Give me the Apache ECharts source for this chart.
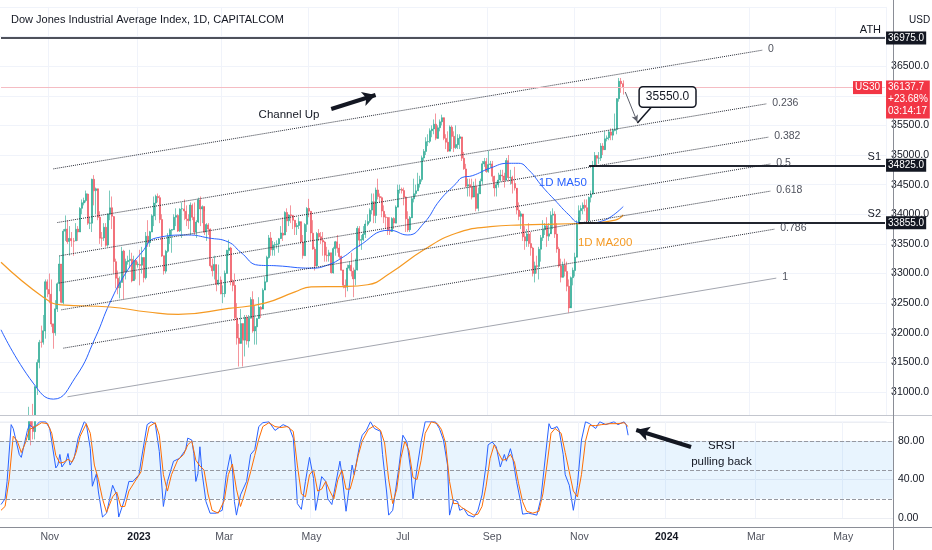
<!DOCTYPE html>
<html>
<head>
<meta charset="utf-8">
<title>Dow Jones Industrial Average Index, 1D</title>
<script src="https://cdn.jsdelivr.net/npm/echarts@6.0.0/dist/echarts.min.js"></script>
<style>
  html, body { margin: 0; padding: 0; background: #fff; }
  #main { width: 932px; height: 550px; }
</style>
</head>
<body>
<div id="main"></div>
<script>
// daily bars, [open, close, low, high]
var sep22 = [
  [29140, 29683, 29100, 29750], [29680, 29225, 29000, 29700], [29225, 28726, 28700, 29500]
];
var oct22 = [
  [28730, 29490, 28660, 29550], [29500, 30316, 29500, 30350], [30310, 30273, 29850, 30400],
  [30270, 29927, 29880, 30430], [29920, 29297, 29200, 29950], [29300, 29203, 29000, 29450],
  [29200, 29240, 28900, 29400], [29240, 29211, 29150, 29450], [29210, 30039, 28660, 30100],
  [30040, 29635, 29600, 30350], [29640, 30186, 29650, 30250], [30190, 30524, 30200, 30750],
  [30520, 30424, 30100, 30550], [30420, 30334, 30200, 30800], [30330, 31083, 30200, 31100],
  [31080, 31499, 30950, 31550], [31500, 31837, 31400, 31880], [31840, 31839, 31750, 32120],
  [31840, 32033, 31800, 32300], [32030, 32861, 31900, 32900], [32860, 32733, 32600, 32900]
];
var nov22 = [
  [32730, 32653, 32500, 33000], [32650, 32147, 32100, 32900], [32150, 32001, 31730, 32150],
  [32000, 32403, 31950, 32550], [32400, 32827, 32350, 32850], [32830, 33160, 32700, 33300],
  [33160, 32513, 32500, 33160], [32510, 33715, 32480, 33750], [33715, 33747, 33550, 33980],
  [33750, 33537, 33500, 33900], [33540, 33593, 33300, 33800], [33590, 33553, 33450, 33700],
  [33550, 33546, 33300, 33600], [33550, 33746, 33550, 33850], [33750, 33700, 33550, 33800],
  [33700, 34098, 33700, 34120], [34100, 34194, 34000, 34250], [34190, 34230, 34150, 34280],
  [34230, 34347, 34200, 34400], [34340, 33849, 33820, 34350], [33850, 33852, 33750, 33950],
  [33850, 34590, 33700, 34600]
];
var dec22 = [
  [34590, 34395, 34150, 34660], [34400, 34430, 34000, 34450], [34430, 33947, 33900, 34400],
  [33950, 33596, 33500, 34050], [33600, 33597, 33450, 33700], [33600, 33781, 33550, 33850],
  [33780, 33476, 33450, 33850], [33480, 34005, 33450, 34010], [34000, 34108, 33900, 34400],
  [34110, 33966, 33750, 34300], [33960, 33202, 33000, 33970], [33200, 32920, 32750, 33250],
  [32920, 32757, 32650, 33050], [32760, 32850, 32580, 32950], [32850, 33376, 32850, 33450],
  [33380, 33027, 32570, 33400], [33030, 33203, 32900, 33250], [33200, 33220, 33150, 33300],
  [33220, 33241, 33100, 33400], [33240, 32875, 32850, 33350], [32880, 33220, 32900, 33300],
  [33220, 33147, 32900, 33200]
];
var jan23 = [
  [33150, 33160, 33100, 33200], [33150, 33136, 32800, 33400], [33140, 33270, 33000, 33450],
  [33270, 32930, 32850, 33200], [32930, 33630, 32900, 33700], [33630, 33517, 33450, 33900],
  [33520, 33704, 33450, 33720], [33700, 33973, 33700, 34000], [33970, 34189, 33800, 34300],
  [34190, 34302, 33900, 34330], [34300, 34280, 34200, 34350], [34280, 33910, 33850, 34320],
  [33910, 33296, 33280, 34000], [33300, 33044, 32980, 33300], [33040, 33375, 33000, 33400],
  [33375, 33629, 33350, 33680], [33630, 33733, 33500, 33760], [33730, 33743, 33350, 33750],
  [33740, 33949, 33750, 34000], [33950, 33978, 33800, 34100], [33980, 33717, 33700, 34000],
  [33720, 34086, 33700, 34100]
];
var feb23 = [
  [34090, 34092, 33600, 34200], [34090, 34054, 33900, 34250], [34050, 33926, 33800, 34150],
  [33920, 33891, 33750, 34000], [33890, 34156, 33650, 34200], [34150, 33949, 33900, 34180],
  [33950, 33699, 33650, 34200], [33700, 33869, 33600, 33900], [33870, 34245, 33850, 34280],
  [34240, 34089, 33800, 34300], [34090, 34128, 33850, 34150], [34130, 33697, 33650, 34050],
  [33700, 33826, 33550, 33850], [33820, 33750, 33650, 33850], [33750, 33130, 33100, 33760],
  [33130, 33045, 32950, 33250], [33050, 33154, 32900, 33300], [33150, 32817, 32700, 33000],
  [32820, 32889, 32800, 33150], [32890, 32657, 32650, 32950]
];
var mar23 = [
  [32660, 32662, 32500, 32800], [32660, 33004, 32600, 33050], [33000, 33391, 33000, 33400],
  [33390, 33431, 33300, 33570], [33430, 32856, 32800, 33450], [32860, 32799, 32700, 32900],
  [32800, 32254, 32200, 33000], [32250, 31910, 31800, 32500], [31910, 31820, 31430, 32150],
  [31820, 32155, 31850, 32400], [32155, 31875, 31430, 31900], [31875, 32247, 31600, 32300],
  [32250, 31862, 31800, 32300], [31860, 32245, 31750, 32300], [32245, 32561, 32250, 32600],
  [32560, 32031, 32000, 32700], [32030, 32106, 31800, 32450], [32100, 32238, 31800, 32250],
  [32240, 32433, 32300, 32600], [32430, 32395, 32250, 32450], [32400, 32718, 32450, 32750],
  [32720, 32860, 32750, 32950], [32860, 33274, 32850, 33300]
];
var apr23 = [
  [33270, 33601, 33250, 33650], [33600, 33403, 33300, 33700], [33400, 33483, 33300, 33550],
  [33480, 33486, 33300, 33530], [33490, 33500, 33420, 33560], [33500, 33587, 33350, 33600],
  [33590, 33685, 33600, 33800], [33680, 33647, 33550, 33950], [33650, 34030, 33650, 34050],
  [34030, 33887, 33700, 34100], [33890, 33988, 33800, 34000], [33990, 33977, 33850, 34150],
  [33980, 33897, 33750, 33950], [33900, 33787, 33650, 33900], [33790, 33809, 33650, 33850],
  [33810, 33876, 33750, 33950], [33875, 33531, 33500, 33850], [33530, 33302, 33250, 33650],
  [33300, 33827, 33300, 33850], [33830, 34098, 33700, 34120]
];
var may23 = [
  [34100, 34052, 33950, 34260], [34050, 33684, 33550, 34050], [33680, 33414, 33400, 33900],
  [33410, 33128, 33050, 33450], [33130, 33675, 33150, 33700], [33680, 33619, 33550, 33750],
  [33620, 33562, 33500, 33700], [33560, 33531, 33300, 33700], [33530, 33310, 33200, 33550],
  [33310, 33301, 33200, 33450], [33300, 33349, 33200, 33400], [33350, 33013, 33000, 33350],
  [33010, 33421, 33000, 33450], [33420, 33536, 33300, 33550], [33535, 33427, 33350, 33650],
  [33430, 33287, 33250, 33500], [33290, 33056, 33050, 33300], [33060, 32800, 32750, 33050],
  [32800, 32765, 32600, 32900], [32770, 33093, 32700, 33150], [33090, 33140, 33050, 33200],
  [33140, 33043, 32950, 33350], [33040, 32908, 32600, 33100]
];
var jun23 = [
  [32910, 33061, 32800, 33250], [33060, 33763, 33050, 33800], [33760, 33563, 33450, 33800],
  [33560, 33573, 33400, 33650], [33570, 33665, 33550, 33800], [33660, 33834, 33600, 33900],
  [33830, 33877, 33800, 34000], [33880, 34066, 33850, 34100], [34070, 34212, 34000, 34350],
  [34210, 33979, 33850, 34350], [33980, 34408, 33850, 34450], [34410, 34299, 34250, 34600],
  [34300, 34280, 34200, 34350], [34280, 34054, 33950, 34300], [34050, 33952, 33850, 34150],
  [33950, 33947, 33750, 34000], [33945, 33727, 33650, 33950], [33730, 33714, 33650, 33950],
  [33710, 33927, 33700, 33950], [33930, 33853, 33750, 33950], [33850, 34122, 33850, 34150],
  [34120, 34408, 34150, 34500]
];
var jul23 = [
  [34410, 34418, 34350, 34500], [34420, 34400, 34350, 34450], [34400, 34288, 34150, 34450],
  [34290, 33922, 33700, 34300], [33920, 33734, 33700, 34050], [33740, 33944, 33700, 33970],
  [33940, 34262, 33950, 34300], [34260, 34347, 34200, 34600], [34350, 34395, 34300, 34500],
  [34395, 34509, 34400, 34700], [34510, 34585, 34450, 34650], [34585, 34952, 34550, 34990],
  [34950, 35061, 34900, 35100], [35060, 35225, 35000, 35300], [35225, 35228, 35150, 35350],
  [35230, 35411, 35200, 35450], [35410, 35438, 35300, 35500], [35440, 35520, 35350, 35600],
  [35520, 35282, 35250, 35700], [35280, 35459, 35300, 35500], [35460, 35560, 35400, 35600]
];
var aug23 = [
  [35560, 35630, 35500, 35680], [35630, 35282, 35250, 35600], [35280, 35216, 35100, 35350],
  [35215, 35065, 35050, 35400], [35065, 35473, 35100, 35500], [35470, 35314, 35100, 35500],
  [35315, 35123, 35050, 35400], [35125, 35176, 35100, 35500], [35175, 35281, 35100, 35350],
  [35280, 35308, 35100, 35350], [35305, 34946, 34900, 35300], [34945, 34766, 34750, 35050],
  [34765, 34474, 34450, 34850], [34475, 34500, 34300, 34600], [34500, 34463, 34300, 34600],
  [34465, 34288, 34250, 34600], [34290, 34473, 34300, 34550], [34470, 34099, 34050, 34600],
  [34100, 34346, 34050, 34450], [34345, 34559, 34350, 34600], [34560, 34852, 34500, 34900],
  [34850, 34890, 34800, 34950], [34890, 34722, 34700, 34950]
];
var sep23 = [
  [34720, 34838, 34700, 35070], [34840, 34850, 34780, 34900], [34850, 34642, 34550, 34900],
  [34640, 34443, 34300, 34650], [34445, 34500, 34300, 34550], [34500, 34577, 34450, 34700],
  [34580, 34663, 34550, 34750], [34660, 34646, 34550, 34750], [34645, 34575, 34450, 34700],
  [34575, 34907, 34600, 34950], [34905, 34618, 34550, 35000], [34620, 34624, 34500, 34750],
  [34625, 34518, 34350, 34650], [34520, 34441, 34400, 34800], [34440, 34070, 34000, 34350],
  [34070, 33964, 33900, 34200], [33965, 34007, 33750, 34050], [34005, 33619, 33550, 33950],
  [33620, 33550, 33400, 33800], [33550, 33667, 33450, 33750], [33665, 33508, 33450, 33850]
];
var oct23 = [
  [33505, 33433, 33300, 33700], [33430, 33002, 32950, 33450], [33000, 33129, 32850, 33200],
  [33130, 33120, 33000, 33300], [33120, 33408, 32900, 33450], [33410, 33604, 33200, 33650],
  [33605, 33739, 33550, 33900], [33740, 33804, 33650, 33850], [33805, 33631, 33450, 33950],
  [33630, 33670, 33550, 33850], [33670, 33984, 33700, 34050], [33985, 34002, 33750, 34100],
  [34000, 33665, 33600, 34050], [33665, 33414, 33350, 33850], [33415, 33127, 33100, 33450],
  [33130, 32936, 32850, 33250], [32935, 33141, 32950, 33200], [33140, 33036, 32950, 33250],
  [33035, 32785, 32700, 33200], [32785, 32418, 32330, 32900], [32420, 32929, 32450, 32950],
  [32930, 33053, 32800, 33100]
];
var nov23 = [
  [33050, 33275, 32950, 33350], [33275, 33839, 33300, 33900], [33840, 34061, 33950, 34150],
  [34060, 34096, 33900, 34150], [34095, 34153, 34000, 34200], [34150, 34112, 34050, 34250],
  [34110, 33892, 33850, 34250], [33890, 34283, 33850, 34300], [34285, 34338, 34200, 34400],
  [34340, 34828, 34350, 34900], [34830, 34991, 34800, 35050], [34990, 34945, 34800, 35000],
  [34945, 34947, 34850, 35050], [34950, 35151, 34900, 35200], [35150, 35088, 35000, 35200],
  [35090, 35273, 35100, 35400], [35275, 35290, 35230, 35330], [35290, 35390, 35250, 35420],
  [35390, 35334, 35250, 35450], [35335, 35417, 35250, 35450], [35415, 35430, 35400, 35700],
  [35430, 35950, 35350, 35960]
];
var dec23 = [
  [35950, 36245, 35900, 36300], [36245, 36204, 36050, 36300], [36204, 36137.7, 36020, 36260]
];

// moving averages, [bar index, value]
var ma50 = [
  [0, 32050], [16, 31150], [26, 30880], [37, 31250], [47, 31930], [54, 32500], [62, 33010],
  [70, 33360], [77, 33600], [93, 33650], [103, 33600], [113, 33530], [119, 33360], [128, 33140],
  [137, 33130], [154, 33090], [162, 33140], [170, 33280], [177, 33450], [193, 33730], [202, 33650],
  [210, 33850], [218, 34240], [226, 34520], [229, 34620], [234, 34650], [243, 34780], [252, 34860],
  [257, 34860], [262, 34750], [269, 34460], [275, 34240], [282, 33990], [287, 33860], [292, 33850],
  [298, 33880], [303, 33960], [309, 34130]
];
var ma200 = [
  [0, 33190], [21, 32600], [30, 32470], [54, 32435], [73, 32350], [88, 32310], [113, 32410],
  [131, 32500], [146, 32690], [154, 32775], [170, 32780], [182, 32810], [193, 33000], [210, 33400],
  [226, 33680], [243, 33790], [259, 33820], [275, 33835], [292, 33850], [305, 33900], [309, 33990]
];

// stochastic RSI, [bar index, value]
var srsiK = [
  [0, 14], [2, 20], [3, 38], [5, 97], [6, 93], [9, 66], [10, 63], [13, 91], [14, 97], [16, 93],
  [19, 100], [22, 100], [24, 93], [27, 52], [28, 55], [29, 66], [30, 53], [32, 59], [33, 67], [34, 55],
  [36, 62], [38, 83], [41, 100], [42, 98], [44, 72], [45, 33], [47, 46], [48, 27], [50, 1], [52, 5],
  [55, 34], [57, 24], [58, 1], [61, 20], [63, 38], [65, 38], [68, 45], [69, 59], [72, 97], [74, 100],
  [76, 98], [78, 69], [80, 12], [82, 38], [85, 59], [88, 62], [91, 71], [92, 83], [94, 81], [95, 67],
  [96, 38], [97, 46], [98, 74], [99, 48], [101, 17], [103, 5], [106, 5], [109, 8], [111, 45], [113, 66],
  [114, 52], [115, 17], [116, 3], [118, 24], [121, 38], [123, 66], [125, 71], [127, 95], [129, 99], [132, 100],
  [135, 91], [137, 94], [139, 97], [142, 94], [144, 83], [145, 52], [146, 15], [148, 9], [150, 38], [152, 63],
  [154, 41], [155, 8], [158, 43], [160, 38], [161, 20], [163, 14], [167, 59], [168, 45], [170, 7], [173, 55],
  [174, 45], [177, 79], [178, 86], [180, 91], [182, 100], [184, 93], [187, 90], [188, 66], [190, 27], [191, 3],
  [193, 8], [196, 52], [198, 86], [200, 79], [202, 48], [203, 20], [205, 52], [207, 79], [209, 100], [214, 100],
  [216, 93], [218, 81], [220, 55], [221, 3], [223, 19], [225, 17], [226, 8], [228, 10], [230, 3], [233, 1],
  [235, 8], [237, 24], [239, 55], [240, 76], [242, 79], [244, 74], [246, 53], [248, 66], [249, 59], [251, 72],
  [252, 64], [254, 38], [256, 17], [257, 4], [260, 5], [262, 4], [264, 3], [266, 20], [269, 79], [270, 98],
  [271, 93], [272, 93], [274, 95], [275, 91], [277, 66], [278, 45], [280, 34], [282, 8], [284, 34], [286, 81],
  [288, 100], [290, 98], [293, 93], [295, 100], [298, 97], [302, 100], [304, 97], [307, 100], [308, 97], [309, 86]
];
var srsiD = [
  [0, 8], [2, 12], [4, 40], [6, 85], [8, 80], [10, 68], [12, 78], [14, 92], [17, 95], [20, 99],
  [23, 98], [25, 88], [27, 65], [29, 57], [31, 58], [33, 61], [35, 58], [37, 68], [39, 85], [42, 98],
  [44, 88], [46, 55], [48, 40], [50, 20], [52, 6], [55, 22], [57, 27], [59, 12], [61, 12], [63, 28],
  [66, 38], [69, 48], [71, 75], [73, 95], [76, 99], [78, 86], [80, 45], [82, 28], [84, 45], [87, 60],
  [90, 66], [92, 76], [94, 80], [96, 60], [98, 54], [100, 50], [102, 25], [104, 8], [107, 5], [110, 18],
  [112, 45], [114, 56], [116, 30], [118, 12], [120, 25], [123, 48], [125, 65], [127, 82], [129, 95], [132, 99],
  [135, 95], [138, 94], [141, 95], [144, 90], [146, 55], [148, 25], [150, 22], [152, 45], [154, 50], [156, 28],
  [158, 30], [160, 38], [162, 28], [164, 20], [166, 40], [168, 50], [170, 30], [172, 30], [174, 45], [176, 65],
  [178, 80], [181, 92], [184, 96], [187, 91], [189, 78], [191, 40], [193, 15], [195, 30], [197, 62], [199, 80],
  [201, 70], [203, 42], [205, 40], [207, 60], [209, 88], [212, 100], [215, 98], [217, 92], [219, 78], [221, 38],
  [223, 15], [225, 15], [227, 11], [230, 7], [233, 3], [235, 4], [237, 12], [239, 33], [241, 62], [243, 76],
  [245, 68], [247, 60], [249, 61], [251, 66], [253, 58], [255, 36], [257, 17], [259, 7], [262, 5], [265, 7],
  [267, 25], [269, 55], [271, 88], [273, 93], [276, 88], [278, 68], [280, 48], [282, 28], [284, 22], [286, 45],
  [288, 80], [290, 96], [293, 96], [296, 97], [300, 98], [304, 98], [307, 99], [309, 95]
];

// drawn levels
var ath = 36975, s1 = 34825, s2 = 33855, lastPrice = 36137.7, target = 35550;
// fib channel: label, [start bar, price], [end bar, price]
var channel = [
  ['0', [26, 34766], [378, 36769]],
  ['0.236', [28, 33860], [380, 35863]],
  ['0.382', [29, 33298], [381, 35301]],
  ['0.5', [29, 32840], [382, 34848]],
  ['0.618', [30, 32387], [382, 34390]],
  ['0.786', [31, 31740], [384, 33748]],
  ['1', [33, 30919], [385, 32922]]
];
var monthNames = ['Jan', 'Feb', 'Mar', 'Apr', 'May', 'Jun', 'Jul', 'Aug', 'Sep', 'Oct', 'Nov', 'Dec'];

var candles = [].concat(sep22, oct22, nov22, dec22, jan23, feb23, mar23, apr23, may23,
  jun23, jul23, aug23, sep23, oct23, nov23, dec23);

// weekday bars, the CFD trades on exchange holidays too
var cats = [];
(function () {
  var d = new Date(Date.UTC(2022, 8, 28));
  while (cats.length < 440) {
    var wd = d.getUTCDay();
    if (wd !== 0 && wd !== 6) cats.push(d.toISOString().slice(0, 10));
    d.setUTCDate(d.getUTCDate() + 1);
  }
})();
var lastBar = cats.length - 1;

function monthTick(i) {
  if (i === 0) return false;
  var m = +cats[i].slice(5, 7);
  return m !== +cats[i - 1].slice(5, 7) && m % 2 === 1;
}

var FONT = 'Liberation Sans, Arial, sans-serif';
var INK = '#131722';
var UP = '#22a68f', DOWN = '#ef4f5a';

function hLine(v, from, color, width, label) {
  return [
    { coord: [from, v], lineStyle: { color: color, width: width, type: 'solid' }, label: label || { show: false } },
    { coord: [lastBar, v] }
  ];
}
function boxLabel(text, bg) {
  return { show: true, position: 'end', distance: 1, formatter: text, color: '#fff',
    backgroundColor: bg, padding: [2, 2, 1, 2], fontSize: 10, fontFamily: FONT };
}
function tagLabel(text) {
  return { show: true, position: 'insideEndTop', distance: [4, 3], formatter: text,
    color: INK, fontSize: 11, fontFamily: FONT };
}
function note(coord, text, style) {
  return { coord: coord, symbol: 'rect', symbolSize: 1, itemStyle: { color: 'rgba(0,0,0,0)' },
    label: Object.assign({ show: true, position: 'inside', formatter: text, color: INK,
      fontSize: 11.5, fontFamily: FONT }, style || {}) };
}
function arrow(from, to, color, width, size) {
  return [
    { coord: from, symbol: 'none', lineStyle: { color: color, width: width, type: 'solid' }, label: { show: false } },
    { coord: to, symbol: 'arrow', symbolSize: size }
  ];
}

var mainLines = [];
channel.forEach(function (c) {
  var solid = c[0] === '1';
  mainLines.push([
    { coord: c[1], lineStyle: { color: solid ? '#a3a6af' : '#2a2e39', width: 1, type: solid ? 'solid' : 'dotted' },
      label: { show: true, position: 'end', distance: 6, formatter: c[0], color: '#50535e', fontSize: 10.5, fontFamily: FONT } },
    { coord: c[2] }
  ]);
});
mainLines.push(hLine(lastPrice, 0, '#f5bcc3', 1, {
  show: true, position: 'end', distance: 1, offset: [0, 12],
  formatter: '36137.7\n+23.68%\n03:14:17', lineHeight: 12, color: '#fff',
  backgroundColor: '#f23645', padding: [1, 2, 1, 2], fontSize: 10, fontFamily: FONT
}));
mainLines.push(hLine(lastPrice, 0, '#f5bcc3', 1, {
  show: true, position: 'insideEnd', distance: 3, formatter: 'US30', color: '#fff',
  backgroundColor: '#f23645', padding: [2, 2, 1, 2], fontSize: 10, fontFamily: FONT
}));
mainLines.push(hLine(ath, 0, '#434651', 1.5, boxLabel('36975.0', INK)));
mainLines.push(hLine(ath, 0, '#434651', 1.5, tagLabel('ATH')));
mainLines.push(hLine(s1, 292, INK, 1.5, boxLabel('34825.0', INK)));
mainLines.push(hLine(s1, 292, INK, 1.5, tagLabel('S1')));
mainLines.push(hLine(s2, 287, INK, 1.5, boxLabel('33855.0', INK)));
mainLines.push(hLine(s2, 287, INK, 1.5, tagLabel('S2')));
mainLines.push(arrow([164, 35776], [186, 36013], INK, 4, [11, 13]));
mainLines.push(arrow([310, 36063], [316, 35557], '#5d606b', 1, [5, 7]));
mainLines.push([
  { coord: [323, 35810], symbol: 'none', lineStyle: { color: INK, width: 1.5, type: 'solid' }, label: { show: false } },
  { coord: [316, 35540], symbol: 'none' }
]);

var option = {
  backgroundColor: '#fff',
  animation: false,
  textStyle: { fontFamily: FONT },
  title: [
    { text: 'Dow Jones Industrial Average Index, 1D, CAPITALCOM', left: 6, top: 9,
      textStyle: { fontSize: 11, fontWeight: 'normal', color: INK, fontFamily: FONT } },
    { text: 'USD', left: 904, top: 10,
      textStyle: { fontSize: 10, fontWeight: 'normal', color: INK, fontFamily: FONT } }
  ],
  grid: [
    { left: 0, top: 6.875, width: 893, height: 414.75 },
    { left: 0, top: 421.75, width: 893, height: 96.25 }
  ],
  xAxis: [
    { type: 'category', gridIndex: 0, data: cats, boundaryGap: true,
      axisLine: { show: false }, axisTick: { show: false }, axisLabel: { show: false },
      splitLine: { show: true, interval: monthTick, lineStyle: { color: '#f0f3fa' } } },
    { type: 'category', gridIndex: 1, data: cats, boundaryGap: true,
      axisLine: { show: false }, axisTick: { show: false },
      splitLine: { show: true, interval: monthTick, lineStyle: { color: '#f0f3fa' } },
      axisLabel: {
        show: true, interval: monthTick, margin: 14, fontSize: 10.5,
        formatter: function (v) {
          var m = +v.slice(5, 7);
          return m === 1 ? '{y|' + v.slice(0, 4) + '}' : '{m|' + monthNames[m - 1] + '}';
        },
        rich: {
          y: { color: INK, fontWeight: 'bold', fontSize: 10.5, fontFamily: FONT },
          m: { color: '#50535e', fontSize: 10.5, fontFamily: FONT }
        }
      } }
  ],
  yAxis: [
    { type: 'value', gridIndex: 0, position: 'right', min: 30500, max: 37500, interval: 500,
      axisLine: { show: false }, axisTick: { show: false },
      axisLabel: { margin: 5, fontSize: 10.5, color: INK,
        formatter: function (v) { return v >= 31000 && v <= 36500 ? v.toFixed(1) : ''; } },
      splitLine: { lineStyle: { color: '#f0f3fa' } } },
    { type: 'value', gridIndex: 1, position: 'right', min: 0, max: 100, interval: 40,
      axisLine: { show: false }, axisTick: { show: false },
      axisLabel: { margin: 5, fontSize: 10.5, color: INK,
        formatter: function (v) { return v === 100 ? '' : v.toFixed(2); } },
      splitLine: { lineStyle: { color: '#eceef3' } } }
  ],
  series: [
    {
      name: 'US30', type: 'candlestick', xAxisIndex: 0, yAxisIndex: 0,
      data: candles, barWidth: 1.5, clip: true,
      itemStyle: { color: UP, color0: DOWN, borderColor: UP, borderColor0: DOWN, borderWidth: 0.6 },
      markLine: { silent: true, animation: false, symbol: ['none', 'none'], data: mainLines },
      markPoint: {
        silent: true, animation: false,
        data: [
          note([143, 35675], 'Channel Up'),
          note([331, 35979], target.toFixed(1), { fontSize: 12, backgroundColor: '#fff',
            borderColor: INK, borderWidth: 1.5, borderRadius: 3, padding: [4, 6, 3, 6] }),
          note([279, 34527], '1D MA50', { color: '#2962ff' }),
          note([300, 33515], '1D MA200', { color: '#f59a23' })
        ]
      }
    },
    {
      name: '1D MA50', type: 'line', xAxisIndex: 0, yAxisIndex: 0, data: ma50,
      smooth: true, showSymbol: false, symbol: 'none', lineStyle: { color: '#2962ff', width: 1 }
    },
    {
      name: '1D MA200', type: 'line', xAxisIndex: 0, yAxisIndex: 0, data: ma200,
      smooth: true, showSymbol: false, symbol: 'none', lineStyle: { color: '#f59a23', width: 1.2 }
    },
    {
      name: 'K', type: 'line', xAxisIndex: 1, yAxisIndex: 1, data: srsiK,
      showSymbol: false, symbol: 'none', lineStyle: { color: '#2962ff', width: 1 },
      markArea: { silent: true, itemStyle: { color: 'rgba(33,150,243,0.1)' },
        data: [[{ yAxis: 20 }, { yAxis: 80 }]] },
      markLine: {
        silent: true, animation: false, symbol: ['none', 'none'],
        lineStyle: { color: '#9598a1', type: 'dashed', width: 1 },
        label: { show: false },
        data: [
          { yAxis: 80 }, { yAxis: 50 }, { yAxis: 20 },
          arrow([340, 73.8], [313, 91.4], INK, 4, [11, 13])
        ]
      },
      markPoint: {
        silent: true, animation: false,
        data: [note([355, 66.5], 'SRSI\npulling back', { lineHeight: 16, fontSize: 11.5 })]
      }
    },
    {
      name: 'D', type: 'line', xAxisIndex: 1, yAxisIndex: 1, data: srsiD,
      showSymbol: false, symbol: 'none', lineStyle: { color: '#ff6d00', width: 1 }
    }
  ],
  graphic: [
    { type: 'rect', z: 3, shape: { x: 0, y: 416, width: 893, height: 5.2 }, style: { fill: '#fff' } },
    { type: 'line', z: 4, shape: { x1: 0, y1: 415.5, x2: 932, y2: 415.5 }, style: { stroke: '#c3c6ce', lineWidth: 1 } },
    { type: 'line', z: 4, shape: { x1: 0, y1: 527.5, x2: 932, y2: 527.5 }, style: { stroke: '#8a8d96', lineWidth: 1 } },
    { type: 'line', z: 4, shape: { x1: 893.5, y1: 0, x2: 893.5, y2: 550 }, style: { stroke: '#8a8d96', lineWidth: 1 } }
  ]
};

var chart = echarts.init(document.getElementById('main'));
chart.setOption(option);
</script>
</body>
</html>
